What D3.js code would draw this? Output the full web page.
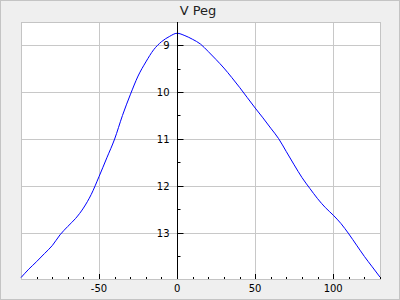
<!DOCTYPE html>
<html>
<head>
<meta charset="utf-8">
<script src="https://cdn.jsdelivr.net/npm/d3@7"></script>
<style>
    body { margin: 0; padding: 0; background: #fff; }
    svg { display: block; font-family: "DejaVu Sans", sans-serif; }
</style>
</head>
<body>
<div id="chart"></div>
<script>
// days from maximum
var days = [-100, -95, -90, -85, -80, -75, -70, -65, -60, -55, -50, -45, -40, -35, -30, -25, -20, -15, -10, -5,
            0, 5, 10, 15, 20, 25, 30, 35, 40, 45, 50, 55, 60, 65, 70, 75, 80, 85, 90, 95, 100, 105, 110, 115, 120, 125, 130];
// visual magnitude
var mags = [13.95, 13.77, 13.61, 13.44, 13.27, 13.04, 12.86, 12.69, 12.47, 12.18, 11.80, 11.40, 11.00, 10.50, 10.06, 9.66, 9.36, 9.10, 8.93, 8.82,
            8.75, 8.80, 8.88, 8.98, 9.14, 9.31, 9.49, 9.69, 9.90, 10.12, 10.34, 10.55, 10.77, 10.99, 11.27, 11.55, 11.82, 12.05, 12.27, 12.46, 12.62, 12.80, 13.02, 13.26, 13.50, 13.72, 13.94];
var xMajorTicks = [-50, 0, 50, 100];
var yMajorTicks = [9, 10, 11, 12, 13];
var title = "V Peg";

document.addEventListener('DOMContentLoaded', function() {
    var W = 400, H = 300;
    var margin = {top: 22, right: 20, bottom: 21, left: 21},
        width = W - margin.left - margin.right,
        height = H - margin.top - margin.bottom;

    var svg = d3.select("#chart").append("svg")
        .attr("width", W)
        .attr("height", H);

    // outer frame
    svg.append("rect")
        .attr("x", 0.5).attr("y", 0.5)
        .attr("width", W - 1).attr("height", H - 1)
        .attr("fill", "#efefef")
        .attr("stroke", "#c4c4c4");

    svg.append("text")
        .attr("x", 198)
        .attr("y", 15)
        .attr("text-anchor", "middle")
        .attr("font-size", "13px")
        .attr("fill", "#222")
        .text(title);

    var g = svg.append("g")
        .attr("transform", "translate(" + margin.left + "," + margin.top + ")");

    var x = d3.scaleLinear().domain([-100, 130]).range([0, width]);
    var y = d3.scaleLinear().domain([8.51, 13.98]).range([0, height]);

    g.append("rect")
        .attr("x", 0.5).attr("y", 0.5)
        .attr("width", width).attr("height", height)
        .attr("fill", "#fff");

    // grid
    g.selectAll(".vgrid")
        .data(xMajorTicks)
        .enter().append("line")
            .attr("x1", d => Math.round(x(d)) + 0.5)
            .attr("x2", d => Math.round(x(d)) + 0.5)
            .attr("y1", 0).attr("y2", height)
            .attr("stroke", "#c8c8c8");

    g.selectAll(".hgrid")
        .data(yMajorTicks)
        .enter().append("line")
            .attr("x1", 0).attr("x2", width)
            .attr("y1", d => Math.round(y(d)) + 0.5)
            .attr("y2", d => Math.round(y(d)) + 0.5)
            .attr("stroke", "#c8c8c8");

    g.append("rect")
        .attr("x", 0.5).attr("y", 0.5)
        .attr("width", width).attr("height", height)
        .attr("fill", "none")
        .attr("stroke", "#c4c4c4");

    // light curve
    var line = d3.line()
        .x((d, i) => x(days[i]))
        .y(d => y(d))
        .curve(d3.curveMonotoneX);

    g.append("path")
        .datum(mags)
        .attr("d", line)
        .attr("fill", "none")
        .attr("stroke", "#0000ff")
        .attr("stroke-width", 1);

    // x ticks along bottom, pointing up
    var x0 = Math.round(x(0)) + 0.5;
    var xMinor = d3.range(-90, 131, 10);
    g.selectAll(".xtick")
        .data(xMinor)
        .enter().append("line")
            .attr("x1", d => Math.round(x(d)) + 0.5)
            .attr("x2", d => Math.round(x(d)) + 0.5)
            .attr("y1", height)
            .attr("y2", d => d % 50 === 0 ? height - 5 : height - 2)
            .attr("stroke", "#000");

    g.selectAll(".xlabel")
        .data(xMajorTicks)
        .enter().append("text")
            .attr("x", d => x(d))
            .attr("y", height + 13)
            .attr("text-anchor", "middle")
            .attr("font-size", "10px")
            .attr("fill", "#000")
            .text(d => d);

    // y axis at x = 0
    g.append("line")
        .attr("x1", x0).attr("x2", x0)
        .attr("y1", 0).attr("y2", height)
        .attr("stroke", "#000");

    var yMinor = d3.range(9, 14, 0.5);
    g.selectAll(".ytick")
        .data(yMinor)
        .enter().append("line")
            .attr("x1", x0)
            .attr("x2", d => d % 1 === 0 ? x0 + 6 : x0 + 3)
            .attr("y1", d => Math.round(y(d)) + 0.5)
            .attr("y2", d => Math.round(y(d)) + 0.5)
            .attr("stroke", "#000");

    g.selectAll(".ylabel")
        .data(yMajorTicks)
        .enter().append("text")
            .attr("x", x0 - 8)
            .attr("y", d => y(d))
            .attr("dy", "0.36em")
            .attr("text-anchor", "end")
            .attr("font-size", "10px")
            .attr("fill", "#000")
            .text(d => d);
});
</script>
</body>
</html>
